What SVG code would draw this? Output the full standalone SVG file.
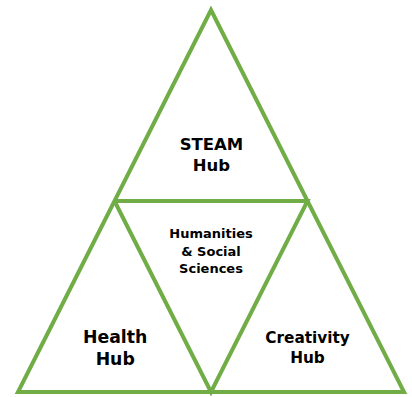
<svg xmlns="http://www.w3.org/2000/svg" width="412" height="397" viewBox="0 0 412 397">
<style>
.tri{fill:none;stroke:#70AD47;stroke-width:4;stroke-linejoin:miter}
.t{font-family:"DejaVu Sans","Liberation Sans",sans-serif;font-weight:bold;fill:#000;text-anchor:middle}
</style>
<rect width="412" height="397" fill="#fff"/>
<g id="connectors">
<polygon class="tri" points="211,10 404,392 18,392"/>
<polyline class="tri" points="114.5,201 307.5,201 211,392 114.5,201"/>
</g>
<g id="steam"><text class="t" x="211.5" y="150" font-size="16.5">STEAM</text><text class="t" x="211.5" y="170.5" font-size="16.5">Hub</text></g>
<g id="humanities"><text class="t" x="211" y="238" font-size="13">Humanities</text><text class="t" x="211" y="256" font-size="13">&amp; Social</text><text class="t" x="211" y="273" font-size="13">Sciences</text></g>
<g id="health"><text class="t" x="115.2" y="343" font-size="17.3">Health</text><text class="t" x="115.2" y="365" font-size="17.3">Hub</text></g>
<g id="creativity"><text class="t" x="307.5" y="342.7" font-size="15.3">Creativity</text><text class="t" x="307.5" y="362.7" font-size="15.3">Hub</text></g>
</svg>
